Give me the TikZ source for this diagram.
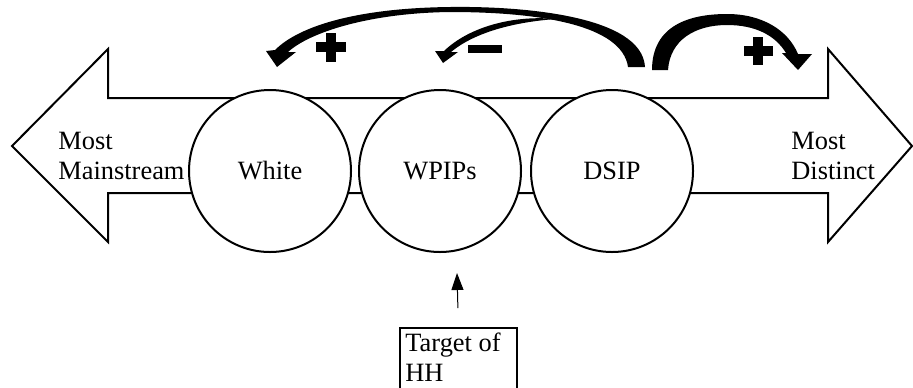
\documentclass[tikz,border=0pt]{standalone}
\usepackage{fontspec}
\setmainfont{Liberation Serif}
\usetikzlibrary{arrows.meta}
\begin{document}
\begin{tikzpicture}[x=0.5pt,y=-0.5pt,
  font=\fontsize{13.2}{15}\selectfont,
  ring/.style={circle,draw,fill=white,minimum size=81pt,inner sep=0pt,line width=1pt},
  label/.style={align=flush left,inner sep=0pt,anchor=base west},
  bolt/.style={fill=black,draw=none}]
\useasboundingbox (0,0) rectangle (913,387);
\clip (0,0) rectangle (913,387);
% double-headed block arrow
\draw[line width=1pt,line join=miter] (12,146) -- (108,49) -- (108,98) -- (828,98) -- (828,49)
  -- (912,146) -- (828,242) -- (828,193) -- (108,193) -- (108,242) -- cycle;
% circles
\node[ring] (white) at (270,171) {White};
\node[ring] (wpips) at (440,171) {WPIPs};
\node[ring] (dsip) at (612,171) {DSIP};
% end labels
\node[label] (mainstream) at (58,179) {Most\\Mainstream};
\node[label] (distinct) at (791,179) {Most\\Distinct};
% big curved arrow DSIP -> White
\path[bolt] (645,67) .. controls (642,15) and (520,6) .. (450,7)
  .. controls (360,8) and (300,25) .. (275,50) -- (266,51) -- (277,67) -- (296,52) -- (288,52)
  .. controls (310,32) and (370,13) .. (450,12)
  .. controls (540,12) and (622,25) .. (628,67) -- cycle;
% small curved arrow -> WPIPs
\path[bolt] (556,19) .. controls (515,15) and (470,26) .. (444,51) -- (435,51) -- (443,63)
  -- (458,52) -- (451,52) .. controls (475,32) and (515,22) .. (556,19) -- cycle;
% right curved arrow DSIP -> Most Distinct
\path[bolt] (652,70) .. controls (652,25) and (690,14) .. (727,14)
  .. controls (762,14) and (788,30) .. (798,54) -- (812,54) -- (798,70) -- (782,53) -- (786,53)
  .. controls (775,35) and (755,25) .. (727,25)
  .. controls (695,25) and (670,40) .. (668,70) -- cycle;
% plus and minus signs
\path[bolt] (316,42) rectangle (346,52);
\path[bolt] (326,33) rectangle (336,62);
\path[bolt] (744,46) rectangle (773,56);
\path[bolt] (753,37) rectangle (763,65);
\path[bolt] (468,45) rectangle (502,53);
% target box
\node[align=flush left,anchor=north west,inner xsep=2.5pt,inner ysep=2pt,text width=53pt] (target) at (400,328) {Target of\\HH};
\draw[line width=1pt] (target.north west) rectangle ([yshift=-10pt]target.south east);
\coordinate (tip) at (457,273);
\draw[line width=0.5pt,-{Triangle[length=8.5pt,width=6pt]},shorten <=10pt] (target.north) -- (tip);
\end{tikzpicture}
\end{document}
